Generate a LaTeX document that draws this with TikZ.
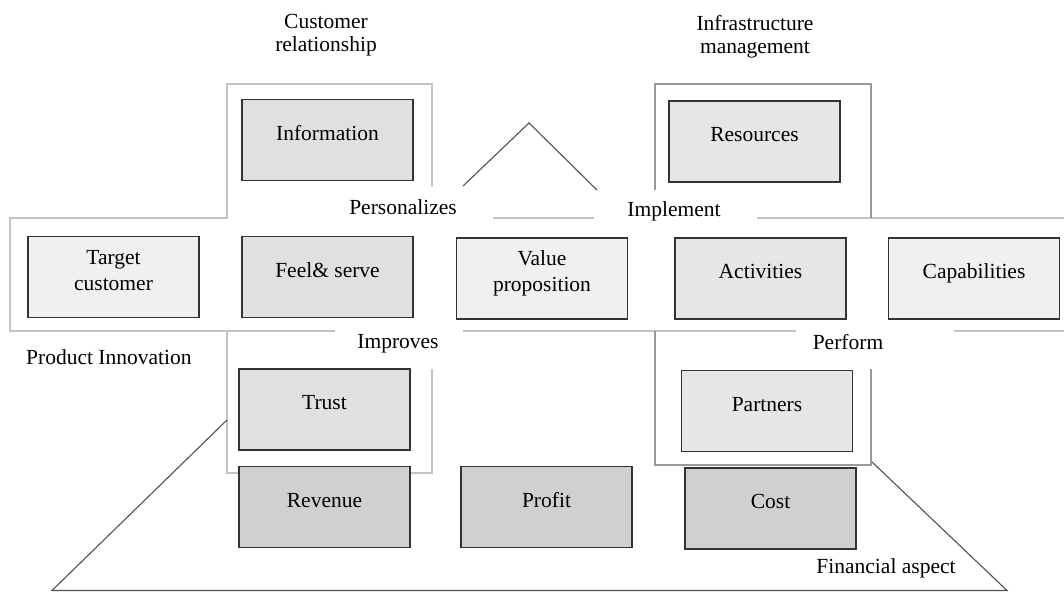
\documentclass[tikz,border=0pt]{standalone}
\usepackage{fontspec}
\setmainfont{Liberation Serif}
\definecolor{framegray}{HTML}{C4C4C4}
\definecolor{infragray}{HTML}{9A9A9A}
\definecolor{roofgray}{HTML}{505050}
\definecolor{fillpale}{HTML}{F0F0F0}
\definecolor{fillmid}{HTML}{E6E6E6}
\definecolor{filldark}{HTML}{E0E0E0}
\definecolor{fillmoney}{HTML}{D0D0D0}
\begin{document}
\begin{tikzpicture}[
		x=1pt, y=-1pt
		, block/.style={draw=black!80, line width=1.5pt, rectangle, inner sep=0pt,
			minimum width=171pt, minimum height=81pt,
			text height=0pt, text depth=0pt,
			font=\fontsize{21.5}{26}\selectfont}
		, pale/.style={block, fill=fillpale}
		, mid/.style={block, fill=fillmid}
		, dark/.style={block, fill=filldark}
		, money/.style={block, fill=fillmoney}
		, tag/.style={inner sep=0pt, align=center, font=\fontsize{21.5}{23}\selectfont}
		, frame/.style={draw=framegray, line width=1.1pt}
		, infraframe/.style={draw=infragray, line width=1.1pt}
		, roof/.style={draw=roofgray, line width=1.1pt}
	]
	\useasboundingbox (0,0) rectangle (1064,592);

	% Draw the grey frames behind the blocks
	\draw[frame] (432,187) -- (432,84) -- (227,84) -- (227,218) -- (10,218) -- (10,331) -- (335,331);
	\draw[frame] (493,218) -- (594,218);
	\draw[frame] (757,218) -- (1064,218);
	\draw[frame] (463,331) -- (796,331);
	\draw[frame] (954,331) -- (1064,331);
	\draw[frame] (227,331) -- (227,473) -- (432,473) -- (432,369);
	\draw[infraframe] (655,190) -- (655,84) -- (871,84) -- (871,218);
	\draw[infraframe] (655,331) -- (655,465) -- (871,465) -- (871,369);

	% Draw the roof and the financial base
	\draw[roof] (463,186) -- (529,123) -- (597,190);
	\draw[roof] (227,420) -- (52,590.5) -- (1007,590.5) -- (872,462);

	% Top row
	\node[dark] (information) at (327.5,140) {Information};
	\node[mid] (resources) at (754.5,141.5) {Resources};

	% Middle row
	\node[pale] (target) at (113.5,277) {\begin{tabular}{c}Target\\customer\end{tabular}};
	\node[dark] (feelserve) at (327.5,277) {Feel\&\ serve};
	\node[pale] (value) at (542,278.5) {\begin{tabular}{c}Value\\proposition\end{tabular}};
	\node[mid] (activities) at (760.5,278.5) {Activities};
	\node[pale] (capabilities) at (974,278.5) {Capabilities};

	% Lower rows
	\node[dark] (trust) at (324.5,409.5) {Trust};
	\node[mid] (partners) at (767,411) {Partners};
	\node[money] (revenue) at (324.5,507) {Revenue};
	\node[money] (profit) at (546.5,507) {Profit};
	\node[money] (cost) at (770.5,508.5) {Cost};

	% Labels
	\node[tag] (custrel) at (326,35.5) {Customer\\relationship};
	\node[tag] (inframan) at (755,37) {Infrastructure\\management};
	\node[tag, anchor=base] (personalizes) at (403,214) {Personalizes};
	\node[tag, anchor=base] (implement) at (674,216) {Implement};
	\node[tag, anchor=base] (improves) at (398,348) {Improves};
	\node[tag, anchor=base] (perform) at (848,349) {Perform};
	\node[tag, anchor=base west] (innovation) at (26,364) {Product Innovation};
	\node[tag, anchor=base] (financial) at (886,573) {Financial aspect};
\end{tikzpicture}
\end{document}
